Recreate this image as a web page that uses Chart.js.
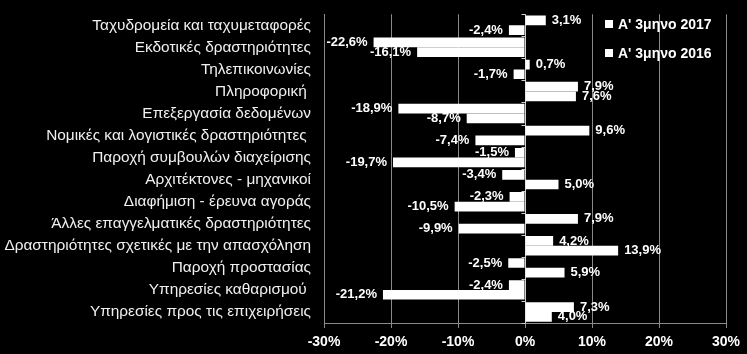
<!DOCTYPE html>
<html>
<head>
<meta charset="utf-8">
<script src="https://cdn.jsdelivr.net/npm/chart.js@4.4.1/dist/chart.umd.min.js"></script>
<style>
  html, body { margin: 0; padding: 0; background: #000; }
  #wrap { position: relative; width: 747px; height: 354px; }
  #legend { position: absolute; left: 605px; top: 11px; color: #fff; font: bold 14px "Liberation Sans", Arial, sans-serif; }
  #legend div { height: 29px; line-height: 26px; white-space: nowrap; }
  #legend span { display: inline-block; width: 8px; height: 8px; background: #fff; margin-right: 5px; vertical-align: 1px; }
</style>
</head>
<body>
<div id="wrap">
  <canvas id="chart" width="747" height="354"></canvas>
  <div id="legend"></div>
</div>
<script>
// κατηγορίες (από πάνω προς τα κάτω)
const categories = [
  'Ταχυδρομεία και ταχυμεταφορές',
  'Εκδοτικές δραστηριότητες',
  'Τηλεπικοινωνίες',
  'Πληροφορική ',
  'Επεξεργασία δεδομένων',
  'Νομικές και λογιστικές δραστηριότητες ',
  'Παροχή συμβουλών διαχείρισης',
  'Αρχιτέκτονες - μηχανικοί',
  'Διαφήμιση - έρευνα αγοράς',
  'Άλλες επαγγελματικές δραστηριότητες',
  'Δραστηριότητες σχετικές με την απασχόληση',
  'Παροχή προστασίας',
  'Υπηρεσίες καθαρισμού ',
  'Υπηρεσίες προς τις επιχειρήσεις'
];
const seriesNames = ["Α' 3μηνο 2017", "Α' 3μηνο 2016"];
const values2017 = [3.1, -22.6, 0.7, 7.9, -18.9, 9.6, -1.5, -3.4, -2.3, 7.9, 4.2, -2.5, -2.4, 7.3];
const values2016 = [-2.4, -16.1, -1.7, 7.6, -8.7, -7.4, -19.7, 5.0, -10.5, -9.9, 13.9, 5.9, -21.2, 4.0];
const xTicks = [-30, -20, -10, 0, 10, 20, 30];

const FONT = '"Liberation Sans", Arial, sans-serif';
const GRID = '#8a8a8a';

// ετικέτες τιμών στο άκρο κάθε μπάρας
const barLabels = {
  id: 'barLabels',
  afterDatasetsDraw(chart) {
    const ctx = chart.ctx;
    ctx.save();
    ctx.font = 'bold 13px ' + FONT;
    ctx.fillStyle = '#fff';
    ctx.textBaseline = 'middle';
    chart.data.datasets.forEach((ds, i) => {
      chart.getDatasetMeta(i).data.forEach((bar, j) => {
        const v = ds.data[j];
        const txt = v.toFixed(1).replace('.', ',') + '%';
        if (v >= 0) {
          ctx.textAlign = 'left';
          ctx.fillText(txt, bar.x + 6, bar.y);
        } else {
          ctx.textAlign = 'right';
          ctx.fillText(txt, bar.x - 6, bar.y);
        }
      });
    });
    ctx.restore();
  }
};

// μικρές γραμμές στον άξονα του μηδενός, στα όρια των κατηγοριών
const zeroTicks = {
  id: 'zeroTicks',
  afterDraw(chart) {
    const ctx = chart.ctx;
    const x0 = Math.round(chart.scales.x.getPixelForValue(0)) + 0.5;
    const y = chart.scales.y;
    const step = (y.bottom - y.top) / categories.length;
    ctx.save();
    ctx.strokeStyle = '#d0d0d0';
    ctx.lineWidth = 1;
    ctx.beginPath();
    for (let i = 0; i <= categories.length; i++) {
      const yy = Math.round(y.top + i * step) + 0.5;
      ctx.moveTo(x0 - 4, yy);
      ctx.lineTo(x0, yy);
    }
    ctx.stroke();
    ctx.restore();
  }
};

document.getElementById('legend').innerHTML =
  seriesNames.map(n => '<div><span></span>' + n + '</div>').join('');

new Chart(document.getElementById('chart'), {
  type: 'bar',
  data: {
    labels: categories,
    datasets: [
      { label: seriesNames[0], data: values2017, backgroundColor: '#fff', borderWidth: 0 },
      { label: seriesNames[1], data: values2016, backgroundColor: '#fff', borderWidth: 0 }
    ]
  },
  options: {
    indexAxis: 'y',
    responsive: false,
    animation: false,
    layout: { padding: { top: 12, right: 21, left: 0, bottom: 0 } },
    datasets: { bar: { categoryPercentage: 0.88, barPercentage: 1.0 } },
    plugins: { legend: { display: false }, tooltip: { enabled: false } },
    scales: {
      x: {
        min: -30, max: 30,
        afterBuildTicks: s => { s.ticks = xTicks.map(v => ({ value: v })); },
        afterFit: s => { s.height = 31; },
        grid: {
          color: ctx => ctx.tick && ctx.tick.value === 0 ? '#d0d0d0' : GRID,
          tickLength: 5,
          tickColor: GRID
        },
        border: { color: GRID },
        ticks: {
          color: '#fff',
          font: { family: FONT, size: 14, weight: 'bold' },
          padding: 6,
          callback: v => v + '%'
        }
      },
      y: {
        afterFit: s => { s.width = 324; },
        grid: { display: false },
        border: { color: GRID },
        ticks: {
          color: '#f0f0f0',
          font: { family: FONT, size: 15.4 },
          padding: 5,
          autoSkip: false
        }
      }
    }
  },
  plugins: [barLabels, zeroTicks]
});
</script>
</body>
</html>
